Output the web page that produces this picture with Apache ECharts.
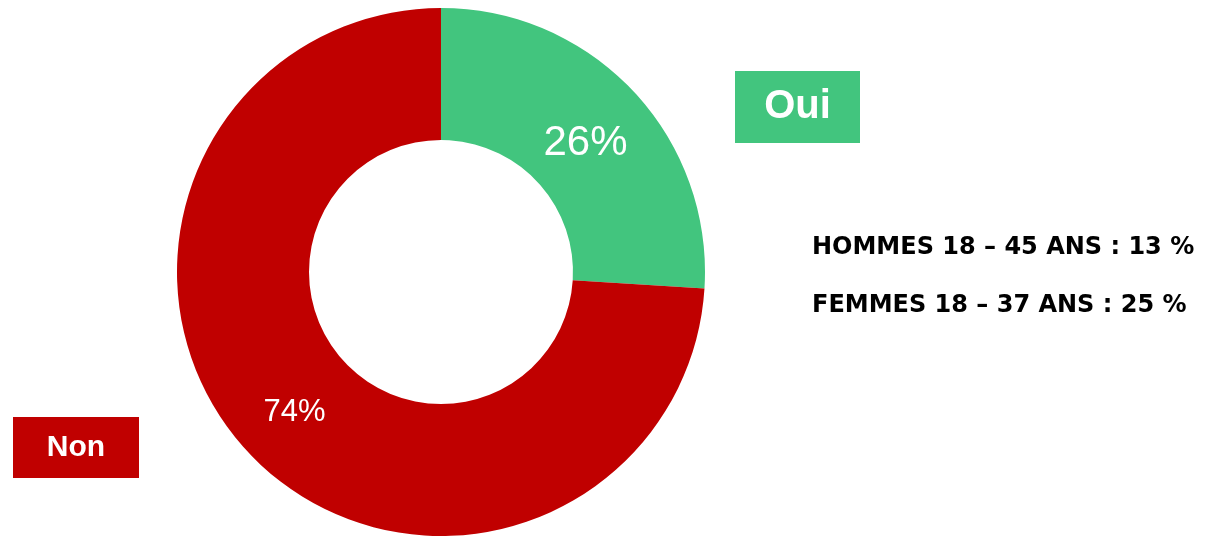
<!DOCTYPE html>
<html>
<head>
<meta charset="utf-8">
<script src="https://cdn.jsdelivr.net/npm/echarts@6/dist/echarts.min.js"></script>
<style>
  html, body { margin: 0; padding: 0; background: #fff; }
  #chart { width: 1226px; height: 537px; }
</style>
</head>
<body>
<div id="chart"></div>
<script>
  var categories = ['Oui', 'Non'];
  var values = [26, 74];
  var colors = ['#42C57E', '#C00000'];
  var notes = ['HOMMES 18 – 45 ANS : 13 %', 'FEMMES 18 – 37 ANS : 25 %'];

  var myChart = echarts.init(document.getElementById('chart'));

  var pieData = [];
  categories.forEach(function (c, i) {
    pieData.push({
      name: c,
      value: values[i],
      itemStyle: { color: colors[i] },
      label: i === 0 ? { fontSize: 42, offset: [-2, 9] } : { fontSize: 31, offset: [0, 3] }
    });
  });

  myChart.setOption({
    animation: false,
    series: [{
      type: 'pie',
      center: [441, 272],
      radius: [132, 264],
      startAngle: 90,
      clockwise: true,
      label: {
        position: 'inside',
        color: '#fff',
        fontFamily: 'Liberation Sans',
        formatter: function (p) { return p.value + '%' }
      },
      labelLine: { show: false },
      emphasis: { disabled: true },
      data: pieData
    }],
    graphic: [
      // boites Oui / Non
      {
        type: 'rect', left: 735, top: 71,
        shape: { width: 125, height: 72 },
        style: { fill: colors[0] },
        textContent: {
          style: { text: categories[0], fill: '#fff', font: 'bold 40px "Liberation Sans"' }
        },
        textConfig: { position: 'inside' }
      },
      {
        type: 'rect', left: 13, top: 417,
        shape: { width: 126, height: 61 },
        style: { fill: colors[1] },
        textContent: {
          style: { text: categories[1], fill: '#fff', font: 'bold 30px "Liberation Sans"' }
        },
        textConfig: { position: 'inside' }
      },
      {
        type: 'text', left: 812, top: 236,
        style: { text: notes[0], fill: '#000', font: 'bold 24px "DejaVu Sans"' }
      },
      {
        type: 'text', left: 812, top: 294,
        style: { text: notes[1], fill: '#000', font: 'bold 24px "DejaVu Sans"' }
      }
    ]
  });
</script>
</body>
</html>
